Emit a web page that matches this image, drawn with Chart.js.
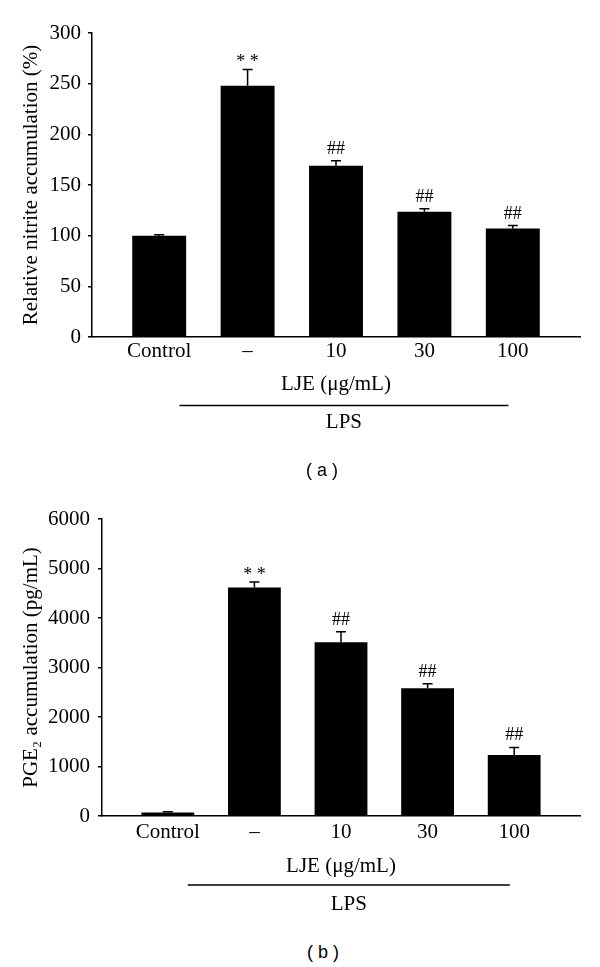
<!DOCTYPE html>
<html>
<head>
<meta charset="utf-8">
<script src="https://cdn.jsdelivr.net/npm/chart.js@4.4.1/dist/chart.umd.min.js"></script>
<style>
  body { margin: 0; background: #fff; width: 600px; height: 967px; position: relative; overflow: hidden; }
  canvas { position: absolute; left: 0; }
  #chartA { top: 0; }
  #chartB { top: 480px; }
  .caption { position: absolute; left: 22px; width: 600px; text-align: center; line-height: 20px;
             font: 18px "Liberation Sans", "DejaVu Sans", sans-serif; color: #000; }
</style>
</head>
<body>
<canvas id="chartA" width="600" height="440"></canvas>
<canvas id="chartB" width="600" height="440"></canvas>
<div class="caption" style="top: 460px;">( a )</div>
<div class="caption" style="top: 942px; left: 23px;">( b )</div>
<script>
const groupLabels = ['Control', '\u2013', '10', '30', '100'];
const markLabels = ['', '* *', '##', '##', '##'];

const nitriteMeans = [100, 248, 169, 123.5, 107];
const nitriteErrors = [1, 16, 5, 3, 3];

const pgeMeans = [70, 4615, 3510, 2580, 1230];
const pgeErrors = [15, 110, 210, 90, 155];

// LPS bracket spans these x-scale positions
const lpsSpan = [0.23, 3.95];

const serif = '"Liberation Serif", "Times New Roman", "DejaVu Serif", serif';
Chart.defaults.color = '#000';
Chart.defaults.font.family = serif;

const errorBarPlugin = {
  id: 'errorBars',
  afterDatasetsDraw(chart) {
    const ctx = chart.ctx;
    const yScale = chart.scales.y;
    const meta = chart.getDatasetMeta(0);
    const errs = chart.options.plugins.errorBars.errors;
    const marks = chart.options.plugins.errorBars.marks;
    ctx.save();
    ctx.strokeStyle = '#000';
    ctx.lineWidth = 1.5;
    meta.data.forEach((bar, i) => {
      const value = chart.data.datasets[0].data[i].y;
      const top = yScale.getPixelForValue(value + errs[i]);
      ctx.beginPath();
      ctx.moveTo(bar.x, bar.y);
      ctx.lineTo(bar.x, top);
      ctx.moveTo(bar.x - 5, top);
      ctx.lineTo(bar.x + 5, top);
      ctx.stroke();

      if (marks[i]) {
        ctx.fillStyle = '#000';
        ctx.font = '18px ' + serif;
        ctx.textAlign = 'center';
        ctx.textBaseline = 'alphabetic';
        const gap = marks[i].includes('*') ? 2 : 7;
        ctx.fillText(marks[i], bar.x, top - gap);
      }
    });
    ctx.restore();
  },
  afterDraw(chart) {
    const ctx = chart.ctx;
    const xScale = chart.scales.x;
    const opts = chart.options.plugins.errorBars;
    const x1 = xScale.getPixelForValue(lpsSpan[0]);
    const x2 = xScale.getPixelForValue(lpsSpan[1]);
    ctx.save();
    ctx.strokeStyle = '#000';
    ctx.lineWidth = 1.5;
    ctx.beginPath();
    ctx.moveTo(x1, opts.bracketY);
    ctx.lineTo(x2, opts.bracketY);
    ctx.stroke();
    ctx.fillStyle = '#000';
    ctx.font = '21px ' + serif;
    ctx.textAlign = 'center';
    ctx.textBaseline = 'middle';
    ctx.fillText('LPS', (x1 + x2) / 2, opts.labelY);
    ctx.restore();
  }
};

function makeChart(canvasId, means, errors, cfg) {
  const points = means.map((v, i) => ({ x: i, y: v }));
  return new Chart(document.getElementById(canvasId), {
    type: 'bar',
    data: {
      datasets: [{
        data: points,
        backgroundColor: '#000',
        borderWidth: 0,
        barPercentage: 0.61,
        categoryPercentage: 1
      }]
    },
    options: {
      responsive: false,
      animation: false,
      devicePixelRatio: 1,
      layout: { padding: { top: cfg.padTop, right: 20, bottom: cfg.padBottom, left: 0 } },
      plugins: {
        legend: { display: false },
        tooltip: { enabled: false },
        errorBars: {
          errors: errors,
          marks: markLabels,
          bracketY: cfg.bracketY,
          labelY: cfg.labelY
        }
      },
      scales: {
        x: {
          type: 'linear',
          min: -0.76,
          max: 4.76,
          offset: false,
          grid: { display: false, drawTicks: false, tickLength: 0 },
          border: { display: true, color: '#000', width: 1.5 },
          ticks: {
            stepSize: 1,
            includeBounds: false,
            autoSkip: false,
            maxRotation: 0,
            padding: cfg.xTickPad,
            font: { size: 21 },
            callback: (v) => groupLabels[v] ?? ''
          },
          title: {
            display: true,
            text: 'LJE (\u03bcg/mL)',
            font: { size: 21 },
            padding: { top: 0, bottom: 0 }
          },
          afterFit(scale) { scale.height = cfg.xHeight; }
        },
        y: {
          min: 0,
          max: cfg.yMax,
          grid: { drawOnChartArea: false, drawTicks: true, tickLength: 4, color: '#000', lineWidth: 1.5 },
          border: { display: true, color: '#000', width: 1.5 },
          ticks: {
            stepSize: cfg.yStep,
            padding: cfg.yTickPad,
            font: { size: 21 },
            callback: (v) => String(v)
          },
          title: {
            display: true,
            text: cfg.yTitle,
            font: { size: 21 },
            padding: { top: 19, bottom: 0 }
          },
          afterFit(scale) { scale.width = cfg.yWidth; }
        }
      }
    },
    plugins: [errorBarPlugin]
  });
}

makeChart('chartA', nitriteMeans, nitriteErrors, {
  yTitle: 'Relative nitrite accumulation (%)',
  yMax: 300, yStep: 50, yWidth: 92, yTickPad: 7,
  padTop: 33, padBottom: 43, xHeight: 60, xTickPad: 2,
  bracketY: 405.5, labelY: 422
});

makeChart('chartB', pgeMeans, pgeErrors, {
  yTitle: 'PGE\u2082 accumulation (pg/mL)',
  yMax: 6000, yStep: 1000, yWidth: 102, yTickPad: 8,
  padTop: 39, padBottom: 41, xHeight: 63, xTickPad: 4,
  bracketY: 405, labelY: 424
});
</script>
</body>
</html>
